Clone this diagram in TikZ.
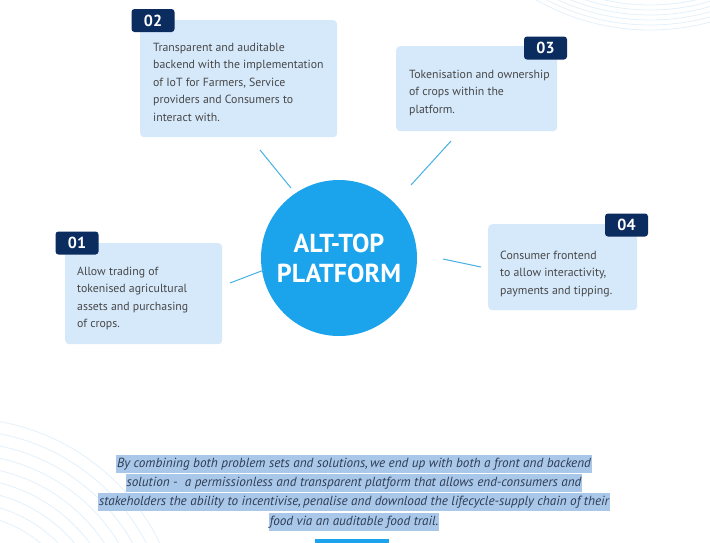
\documentclass[tikz,border=0pt]{standalone}
\usepackage{fontspec}
\setmainfont{PT Sans}

\definecolor{cardblue}{HTML}{D6E9FB}
\definecolor{tabnavy}{HTML}{0B2C5F}
\definecolor{hubblue}{HTML}{1BA4EC}
\definecolor{linkblue}{HTML}{45B2E2}
\definecolor{bodygrey}{HTML}{474747}
\definecolor{markblue}{HTML}{A9C7E9}
\definecolor{quoteink}{HTML}{2E3D55}
\definecolor{wavetint}{HTML}{E4F1FB}

\begin{document}
\begin{tikzpicture}[
        x=1pt, y=-1pt,
        card/.style={fill=cardblue, rounded corners=4pt, anchor=north west, inner sep=0pt},
        tab/.style={fill=tabnavy, rounded corners=3pt, text=white, inner sep=0pt, minimum width=43pt, minimum height=23pt, font=\fontsize{16}{16}\selectfont\bfseries},
        blurb/.style={anchor=base west, align=left, inner sep=0pt, text=bodygrey, font=\fontsize{11.8}{17.4}\selectfont},
        link/.style={draw=linkblue, line width=1pt},
        wave/.style={draw=wavetint, line width=0.8pt},
        quote/.style={anchor=base, fill=markblue, text=quoteink, inner xsep=1pt, inner ysep=1pt, text height=11pt, text depth=5pt, font=\fontsize{13.2}{16}\selectfont\itshape}
    ]
        \fill[white] (0,0) rectangle (710,542);
        \useasboundingbox (0,0) rectangle (710,542);

        % faint background arcs
        \begin{scope}
            \clip (0,0) rectangle (710,542);
            \foreach \r in {205,210,...,230}
                \draw[wave] (650,-200) circle[radius=\r pt];
            \foreach \r in {126,138,...,222}
                \draw[wave] (-40,640) circle[radius=\r pt];
        \end{scope}

        % cards
        \node[card, minimum width=197pt, minimum height=117pt] (card2) at (140,20) {};
        \node[card, minimum width=161pt, minimum height=85pt] (card3) at (396,46) {};
        \node[card, minimum width=157pt, minimum height=101pt] (card1) at (65,243) {};
        \node[card, minimum width=149pt, minimum height=86pt] (card4) at (488,224) {};

        \node[tab] (tab2) at (153,20.5) {02};
        \node[tab] (tab3) at (545.5,48) {03};
        \node[tab] (tab1) at (77,243) {01};
        \node[tab] (tab4) at (626.5,225) {04};

        % base anchor sits on the last line
        \node[blurb] (text2) at (153,121)
            {Transparent and auditable\\
             backend with the implementation\\
             of IoT for Farmers, Service\\
             providers and Consumers to\\
             interact with.};
        \node[blurb] (text3) at (409,113)
            {Tokenisation and ownership\\
             of crops within the\\
             platform.};
        \node[blurb] (text1) at (77,327.5)
            {Allow trading of\\
             tokenised agricultural\\
             assets and purchasing\\
             of crops.};
        \node[blurb] (text4) at (500,294)
            {Consumer frontend\\
             to allow interactivity,\\
             payments and tipping.};

        % hub
        \node[circle, fill=hubblue, minimum size=156pt, inner sep=0pt] (hub) at (339,258) {};
        \node[align=center, text=white, font=\fontsize{26}{30}\selectfont\bfseries] (hubtext) at (hub.center)
            {ALT-TOP\\PLATFORM};

        \coordinate (l2a) at (260,150);  \coordinate (l2b) at (291,188);
        \coordinate (l3a) at (451,141);  \coordinate (l3b) at (411,185);
        \coordinate (l1a) at (230,283);  \coordinate (l1b) at (264,270);
        \coordinate (l4a) at (443,259);  \coordinate (l4b) at (481,267);
        \draw[link] (l2a) -- (l2b);
        \draw[link] (l3a) -- (l3b);
        \draw[link] (l1a) -- (l1b);
        \draw[link] (l4a) -- (l4b);

        % summary
        \node[quote] (sum1) at (354,467) {By combining both problem sets and solutions,\,we end up with both a front and backend};
        \node[quote] (sum2) at (354,486) {solution -\ \ a permissionless and transparent platform that allows end-consumers and};
        \node[quote] (sum3) at (354,505) {stakeholders the ability to incentivise,\,penalise and download the lifecycle-supply chain of their};
        \node[quote] (sum4) at (354,525) {food via an auditable food trail.};

        \node[fill=hubblue, inner sep=0pt, minimum width=74pt, minimum height=4pt, anchor=north west] (bar) at (315,539) {};
    \end{tikzpicture}
\end{document}
